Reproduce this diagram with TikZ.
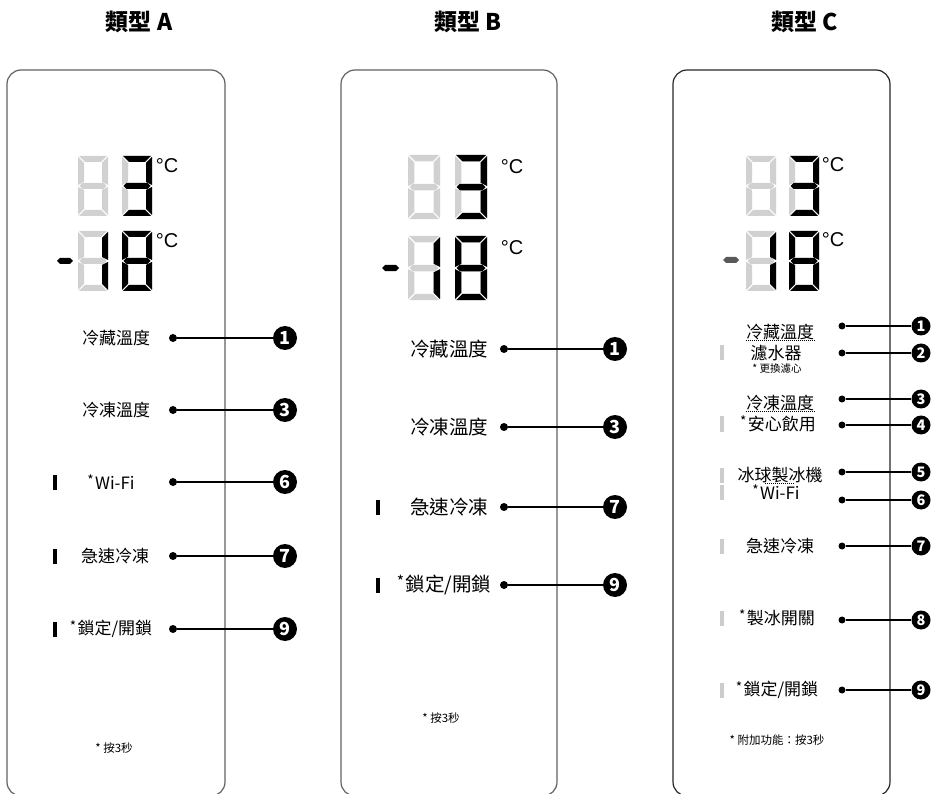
\documentclass[tikz,border=0pt]{standalone}
\usepackage{fontspec}
\newfontfamily\cjk{Noto Sans CJK TC}
\newfontfamily\lat{Liberation Sans}
\usetikzlibrary{positioning,calc}

% seven-segment pieces, digit box 30 x 60
\newcommand\sega[1]{\fill[#1] (1,0) -- (29,0) -- (23,6) -- (7,6) -- cycle;}
\newcommand\segb[1]{\fill[#1] (30,1) -- (30,29) -- (24,26) -- (24,7) -- cycle;}
\newcommand\segc[1]{\fill[#1] (30,31) -- (30,59) -- (24,53) -- (24,34) -- cycle;}
\newcommand\segd[1]{\fill[#1] (1,60) -- (29,60) -- (23,54) -- (7,54) -- cycle;}
\newcommand\sege[1]{\fill[#1] (0,31) -- (0,59) -- (6,53) -- (6,34) -- cycle;}
\newcommand\segf[1]{\fill[#1] (0,1) -- (0,29) -- (6,26) -- (6,7) -- cycle;}
\newcommand\segg[1]{\fill[#1] (1.5,30) -- (4.5,27) -- (25.5,27) -- (28.5,30) -- (25.5,33) -- (4.5,33) -- cycle;}
\newcommand\segx[1]{}
\newcommand\sevenseg[3]{%
  \begin{scope}[shift={#1},scale=#2]
    \foreach \s in {a,b,c,d,e,f,g} {\csname seg\s\endcsname{segoff}}
    \foreach \s in {#3} {\csname seg\s\endcsname{segon}}
  \end{scope}}
\newcommand\minusseg[3]{%
  \begin{scope}[shift={#1},scale=#2]
    \fill[#3] (0,0) -- (3,-3) -- (13,-3) -- (16,0) -- (13,3) -- (3,3) -- cycle;
  \end{scope}}
\newcommand\fnstar{\raisebox{0.22em}{\scalebox{0.8}{*}}\kern0.08em}

\begin{document}
\begin{tikzpicture}[x=1pt, y=-1pt,
  panel/.style={draw=black!62, line width=1.2pt, rounded corners=14pt},
  title/.style={font=\cjk\bfseries\fontsize{23}{26}\selectfont},
  lbl/.style={font=\cjk\fontsize{17}{20}\selectfont, inner sep=0pt},
  lblb/.style={font=\cjk\fontsize{19.5}{22}\selectfont, inner sep=0pt},
  note/.style={font=\cjk\fontsize{11.5}{13}\selectfont, inner sep=0pt},
  unit/.style={font=\lat\fontsize{20}{21}\selectfont, inner sep=0pt},
  bullet/.style={circle, fill=black, inner sep=0pt, minimum size=8pt},
  num/.style={circle, fill=black, text=white, inner sep=0pt, minimum size=24pt,
    font=\cjk\bfseries\fontsize{18}{18}\selectfont},
  numc/.style={num, minimum size=19pt, font=\cjk\bfseries\fontsize{14.5}{15}\selectfont},
  bar/.style={fill=black, inner sep=0pt, minimum width=4pt, minimum height=15pt},
  barc/.style={bar, fill=black!20},
  segon/.style={fill=black},
  segoff/.style={fill=black!18},
  lead/.style={line width=1.1pt},
  under/.style={dash pattern=on 1pt off 1pt, line width=0.8pt}]
  \useasboundingbox (0,0) rectangle (935,794);
  %--- type A ---
  \node[title] (titleA) at (139,22) {類型 A};
  \draw[panel] (7,70) rectangle (225,796);
  \sevenseg{(78,156)}{1}{x}
  \sevenseg{(122,156)}{1}{a,b,c,d,g}
  \node[unit] (degA1) at (167,166) {°C};
  \minusseg{(57,261)}{1}{segon}
  \sevenseg{(78,231)}{1}{b,c}
  \sevenseg{(122,231)}{1}{a,b,c,d,e,f,g}
  \node[unit] (degA2) at (167,241) {°C};
  \foreach \y/\xt/\txt/\n in {338/116/冷藏溫度/1, 410/116/冷凍溫度/3,
      482/111/{\fnstar Wi-Fi}/6, 556/115/急速冷凍/7, 629/111/{\fnstar 鎖定/開鎖}/9} {
    \node[lbl] (a\n) at (\xt,\y) {\txt};
    \node[bullet] (pa\n) at (173,\y) {};
    \node[num] (na\n) at (285,\y) {\n};
    \draw[lead] (pa\n) -- (na\n);
  }
  \foreach \n in {6,7,9} \node[bar] (ba\n) at (55,0 |- a\n) {};
  \node[note] (noteA) at (114,748) {* 按3秒};
  %--- type B ---
  \node[title] (titleB) at (468,22) {類型 B};
  \draw[panel] (341,70) rectangle (557,796);
  \sevenseg{(408,155)}{1.07}{x}
  \sevenseg{(455,155)}{1.07}{a,b,c,d,g}
  \node[unit] (degB1) at (512,167) {°C};
  \minusseg{(382,268)}{1.07}{segon}
  \sevenseg{(408,236)}{1.07}{b,c}
  \sevenseg{(455,236)}{1.07}{a,b,c,d,e,f,g}
  \node[unit] (degB2) at (512,248) {°C};
  \foreach \y/\xt/\txt/\n in {349/449/冷藏溫度/1, 427/449/冷凍溫度/3,
      507/449/急速冷凍/7, 585/444/{\fnstar 鎖定/開鎖}/9} {
    \node[lblb] (b\n) at (\xt,\y) {\txt};
    \node[bullet] (pb\n) at (504,\y) {};
    \node[num] (nb\n) at (615,\y) {\n};
    \draw[lead] (pb\n) -- (nb\n);
  }
  \foreach \n in {7,9} \node[bar] (bb\n) at (378,0 |- b\n) {};
  \node[note] (noteB) at (441,718) {* 按3秒};
  %--- type C ---
  \node[title] (titleC) at (805,22) {類型 C};
  \draw[panel, draw=black!85] (673,70) rectangle (890,796);
  \sevenseg{(746,156)}{1}{x}
  \sevenseg{(789,156)}{1}{a,b,c,d,g}
  \node[unit] (degC1) at (833,165) {°C};
  \minusseg{(723,260)}{1}{black!65}
  \sevenseg{(746,231)}{1}{b,c}
  \sevenseg{(789,231)}{1}{a,b,c,d,e,f,g}
  \node[unit] (degC2) at (833,240) {°C};
  \node[lbl] (c1) at (780,332) {冷藏溫度};
  \node[lbl] (c2) at (776,353) {濾水器};
  \node[note, font=\cjk\fontsize{10.5}{12}\selectfont] (c2n) at (777,369) {* 更換濾心};
  \node[lbl] (c3) at (780,403) {冷凍溫度};
  \node[lbl] (c4) at (778,424) {\fnstar 安心飲用};
  \node[lbl] (c5) at (780,475) {冰球製冰機};
  \node[lbl] (c6) at (776,492) {\fnstar Wi-Fi};
  \node[lbl] (c7) at (780,546) {急速冷凍};
  \node[lbl] (c8) at (777,618) {\fnstar 製冰開關};
  \node[lbl] (c9) at (777,690) {\fnstar 鎖定/開鎖};
  \draw[under] (c1.south west) -- (c1.south east);
  \draw[under] (c3.south west) -- (c3.south east);
  \draw[under] ($(c5.south)+(-15,0)$) -- ($(c5.south)+(15,0)$);
  \foreach \n/\y in {1/326, 2/353, 3/399, 4/425, 5/472, 6/500, 7/546, 8/620, 9/690} {
    \node[bullet, minimum size=7pt] (pc\n) at (842,\y) {};
    \node[numc] (nc\n) at (921,\y) {\n};
    \draw[lead] (pc\n) -- (nc\n);
  }
  \foreach \n in {2,4,5,6,7,8,9} \node[barc] (bc\n) at (722,0 |- c\n) {};
  \node[note] (noteC) at (777,740) {* 附加功能：按3秒};
\end{tikzpicture}
\end{document}
